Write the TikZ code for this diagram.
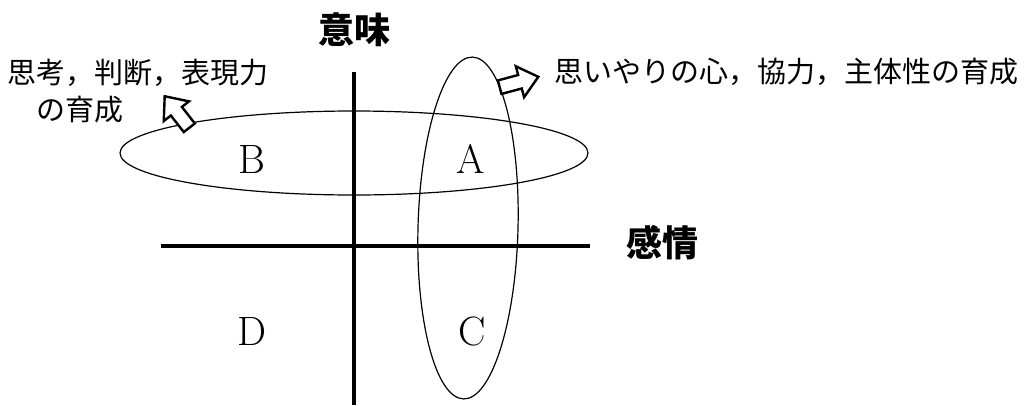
\documentclass[tikz,border=0pt]{standalone}
\usepackage{fontspec}
\newfontfamily\cjk{Noto Sans CJK JP}
\usetikzlibrary{positioning}

\begin{document}
\begin{tikzpicture}[
    x=1pt, y=-1pt,
    axis/.style={line width=4pt},
    ring/.style={line width=1.2pt},
    blockarr/.style={draw, fill=white, line width=2.4pt, line join=miter},
    title/.style={font=\cjk\bfseries\fontsize{36}{40}\selectfont, inner sep=0pt},
    note/.style={font=\cjk\fontsize{29}{34}\selectfont, inner sep=0pt, anchor=west},
    quad/.style={font=\fontsize{41}{45}\selectfont, inner sep=0pt}
  ]
  \useasboundingbox (0,0) rectangle (1026,405);
  % axes
  \coordinate (vtop) at (354,72);
  \coordinate (vbot) at (354,405);
  \coordinate (hleft) at (161,246);
  \coordinate (hright) at (590,246);
  \draw[axis] (vtop) -- (vbot);
  \draw[axis] (hleft) -- (hright);
  \node[title] (imi) at (354,30) {意味};
  \node[title] (kanjo) at (662,243) {感情};
  % quadrants
  \foreach \q/\x/\y in {A/471/159, B/252/159, C/472/331, D/252/331} {
    \node[quad] (q\q) at (\x,\y) {\q};
  }
  % ellipses
  \draw[ring] (354,153) ellipse [x radius=234, y radius=42];
  \draw[ring, rotate around={-1.5:(468,228)}] (468,228) ellipse [x radius=50, y radius=171];
  % block arrows
  \draw[blockarr, shift={(177,112)}, rotate=128]
    (-20,-7) -- (1,-7) -- (1,-16) -- (20,0) -- (1,16) -- (1,7) -- (-20,7) -- cycle;
  \draw[blockarr, shift={(519,82)}, rotate=15]
    (-20,-7) -- (1,-7) -- (1,-16) -- (20,0) -- (1,16) -- (1,7) -- (-20,7) -- cycle;
  % labels
  \node[note] (think) at (7,73) {思考，判断，表現力};
  \node[note] (think2) at (36,110) {の育成};
  \node[note] (care) at (554,72) {思いやりの心，協力，主体性の育成};
\end{tikzpicture}
\end{document}
